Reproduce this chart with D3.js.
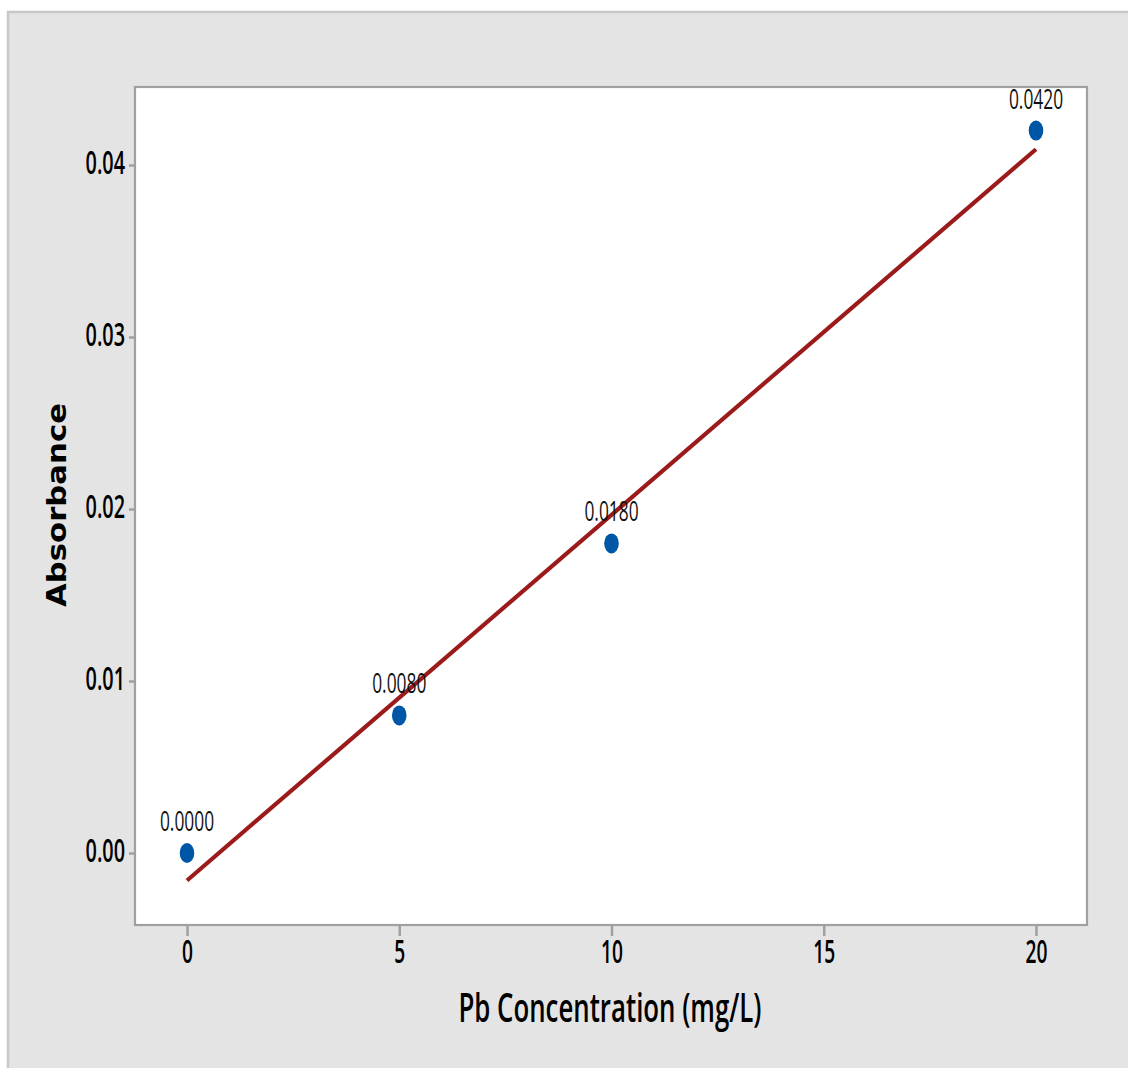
<!DOCTYPE html>
<html>
<head>
<meta charset="utf-8">
<script src="https://cdn.jsdelivr.net/npm/d3@7"></script>
<style>
  html, body { margin: 0; padding: 0; background: #ffffff; }
  svg { display: block; }
</style>
</head>
<body>
<svg id="chart" width="1128" height="1068"></svg>
<script>
// ---- data ----
const concentrations = [0, 5, 10, 20];          // Pb concentration (mg/L)
const absorbances   = [0.0000, 0.0080, 0.0180, 0.0420];
const pointLabels   = ["0.0000", "0.0080", "0.0180", "0.0420"];
const xTickValues   = [0, 5, 10, 15, 20];
const yTickValues   = [0, 0.01, 0.02, 0.03, 0.04];
const xTitle = "Pb Concentration (mg/L)";
const yTitle = "Absorbance";

// ---- layout ----
const W = 1128, H = 1068;
const plot = { left: 135, top: 87, right: 1087, bottom: 925 };
const condensed = "'Open Sans', 'Noto Sans', sans-serif";

const svg = d3.select("#chart");

// outer panel
svg.append("rect").attr("x", 0).attr("y", 0).attr("width", W).attr("height", H).attr("fill", "#ffffff");
svg.append("rect")
  .attr("x", 8).attr("y", 12).attr("width", W + 20).attr("height", H + 20)
  .attr("fill", "#e4e4e4").attr("stroke", "#c8c8c8").attr("stroke-width", 2.5);

// scales
const x = d3.scaleLinear().domain([0, 20]).range([187, 1036]);
const y = d3.scaleLinear().domain([0, 0.04]).range([853, 165]);

// plot area
svg.append("rect")
  .attr("x", plot.left).attr("y", plot.top)
  .attr("width", plot.right - plot.left).attr("height", plot.bottom - plot.top)
  .attr("fill", "#ffffff").attr("stroke", "#a0a0a0").attr("stroke-width", 2.2);

// axes
const xAxis = svg.append("g")
  .attr("transform", `translate(0,${plot.bottom})`)
  .call(d3.axisBottom(x).tickValues(xTickValues).tickFormat(d3.format("d")).tickSize(11).tickSizeOuter(0));
xAxis.select(".domain").remove();
xAxis.selectAll(".tick line").attr("stroke", "#a0a0a0").attr("stroke-width", 2.5);
xAxis.selectAll(".tick text")
  .attr("x", 0).attr("y", 0).attr("dy", null)
  .attr("transform", "translate(0,38) scale(0.6,1)")
  .attr("text-anchor", "middle")
  .attr("font-family", condensed).attr("font-size", 32).attr("font-weight", 600).attr("fill", "#000");

const yAxis = svg.append("g")
  .attr("transform", `translate(${plot.left},0)`)
  .call(d3.axisLeft(y).tickValues(yTickValues).tickFormat(d3.format(".2f")).tickSize(6).tickSizeOuter(0));
yAxis.select(".domain").remove();
yAxis.selectAll(".tick text")
  .attr("x", 0).attr("y", 0).attr("dy", null)
  .attr("transform", "translate(-10,8) scale(0.62,1)")
  .attr("text-anchor", "end")
  .attr("font-family", condensed).attr("font-size", 32).attr("font-weight", 600).attr("fill", "#000");
yAxis.selectAll(".tick line").attr("stroke", "#a0a0a0").attr("stroke-width", 2.5);

// regression line (least squares fit of the data)
const n = concentrations.length;
const mx = d3.mean(concentrations), my = d3.mean(absorbances);
let sxy = 0, sxx = 0;
for (let i = 0; i < n; i++) {
  sxy += (concentrations[i] - mx) * (absorbances[i] - my);
  sxx += (concentrations[i] - mx) ** 2;
}
const slope = sxy / sxx, intercept = my - slope * mx;
const xExt = d3.extent(concentrations);
svg.append("line")
  .attr("x1", x(xExt[0])).attr("y1", y(intercept + slope * xExt[0]))
  .attr("x2", x(xExt[1])).attr("y2", y(intercept + slope * xExt[1]))
  .attr("stroke", "#9b1b1b").attr("stroke-width", 4.2);

// points
const pts = concentrations.map((c, i) => ({ c, a: absorbances[i], label: pointLabels[i] }));
svg.append("g").selectAll("ellipse").data(pts).join("ellipse")
  .attr("cx", d => x(d.c)).attr("cy", d => y(d.a))
  .attr("rx", 7.3).attr("ry", 10)
  .attr("fill", "#0056a6");

// point labels
svg.append("g").selectAll("text").data(pts).join("text")
  .attr("transform", d => `translate(${x(d.c)},${y(d.a) - 22}) scale(0.62,1)`)
  .attr("text-anchor", "middle")
  .attr("font-family", condensed).attr("font-size", 28).attr("fill", "#111")
  .text(d => d.label);

// axis titles
svg.append("text")
  .attr("x", 610).attr("y", 1022)
  .attr("text-anchor", "middle")
  .attr("font-family", condensed).attr("font-size", 40).attr("font-weight", 600).attr("fill", "#000")
  .attr("textLength", 303).attr("lengthAdjust", "spacingAndGlyphs")
  .text(xTitle);

svg.append("text")
  .attr("transform", "translate(66,505) rotate(-90)")
  .attr("text-anchor", "middle")
  .attr("font-family", "'DejaVu Sans', Verdana, sans-serif").attr("font-weight", "bold")
  .attr("font-size", 27).attr("fill", "#000")
  .attr("textLength", 204).attr("lengthAdjust", "spacingAndGlyphs")
  .text(yTitle);
</script>
</body>
</html>
